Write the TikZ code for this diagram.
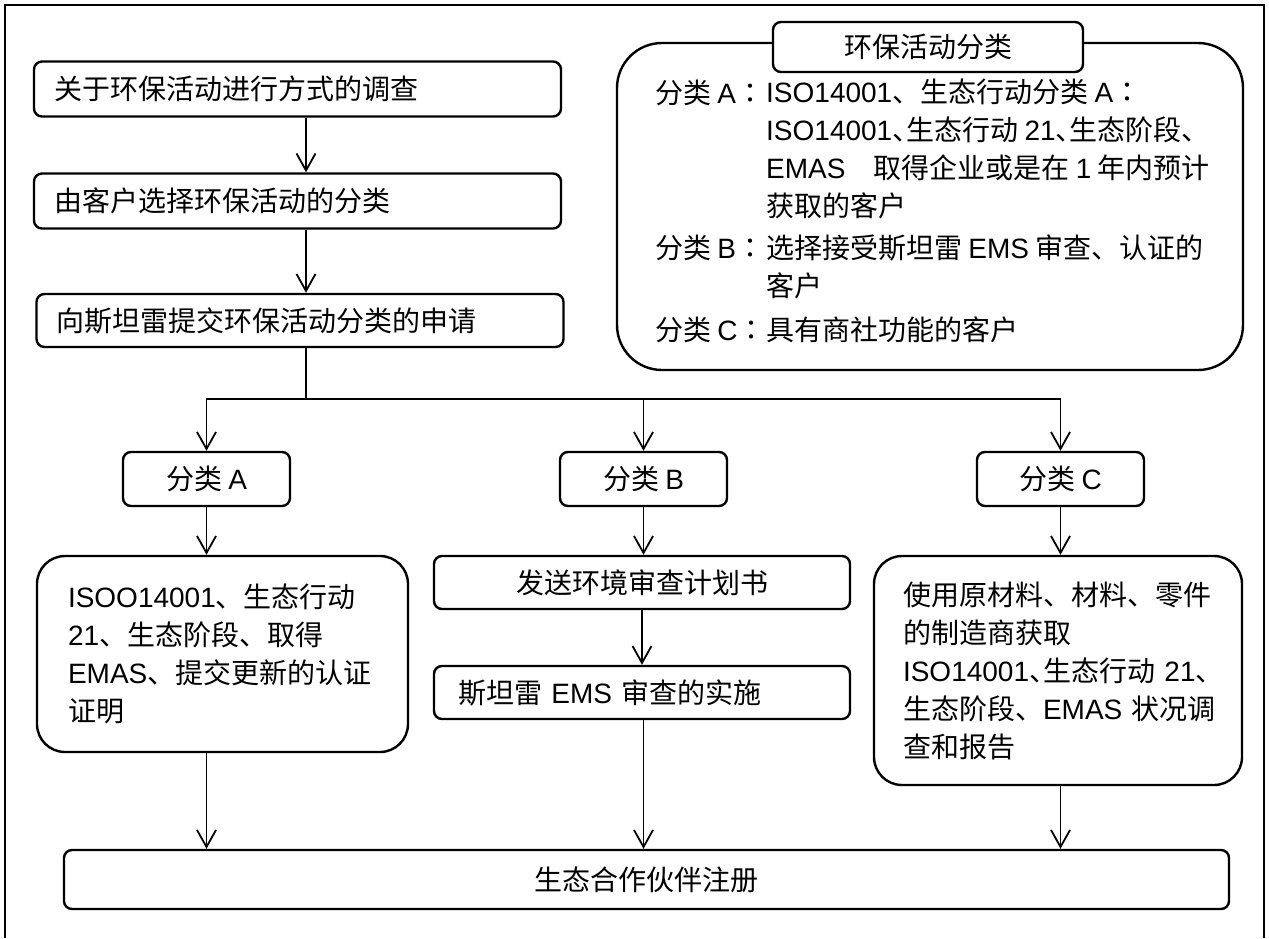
\documentclass[tikz,border=0pt]{standalone}
\usepackage{fontspec}
\setmainfont{Noto Sans CJK SC}
\newfontfamily\lat{Liberation Sans}
\newfontfamily\cjkjp{Noto Sans CJK JP}
\newfontfamily\cjkhalf[RawFeature=+halt]{Noto Sans CJK SC}
\usetikzlibrary{arrows.meta}
\newcommand\en[1]{{\lat #1}}
\newcommand\hdun{{\cjkhalf 、}}
\newcommand\jcol{{\cjkjp ：}}
\tikzset{
  box/.style={draw, line width=2.4pt, rounded corners=8pt, minimum height=55pt, inner sep=0pt},
  link/.style={line width=1.8pt, -{Straight Barb[length=17pt,width=19pt,line width=1.8pt]}},
  txt/.style={inner sep=0pt, align=left},
}
\begin{document}
\begin{tikzpicture}[x=1pt,y=-1pt,font=\fontsize{28}{38}\selectfont]
\useasboundingbox (0,0) rectangle (1269,938);
\draw[line width=2pt] (5,938) -- (5,5) -- (1264,5) -- (1264,938);
\node[box, text width=487pt, inner xsep=20pt, align=left] (survey) at (297.5,89) {关于环保活动进行方式的调查};
\node[box, text width=487pt, inner xsep=20pt, align=left] (choose) at (297.5,201) {由客户选择环保活动的分类};
\node[box, text width=487pt, inner xsep=20pt, align=left, minimum height=53pt] (apply) at (300,320.5) {向斯坦雷提交环保活动分类的申请};
\coordinate (fork) at (306,399);
\draw[link] (survey.south -| fork) -- (choose.north -| fork);
\draw[link] (choose.south -| fork) -- (apply.north -| fork);
\draw[line width=1.8pt] (apply.south -| fork) -- (fork);
\foreach \c/\x in {A/206.5,B/643.5,C/1060.5} {
  \node[box, minimum width=167pt, minimum height=54pt] (cat\c) at (\x,479) {分类 \en{\c}};
  \draw[link] (fork) -| (cat\c.north);
}
\node[box, rounded corners=45pt, minimum width=626pt, minimum height=327pt] (panel) at (930,206.5) {};
\node[box, fill=white, minimum width=310pt, minimum height=50pt] (paneltitle) at (928,47) {环保活动分类};
\node[txt, anchor=west] (labA) at (655,93) {分类 \en{A}\jcol};
\node[txt, anchor=west] (itemA) at (766,149) {\en{ISO14001}、生态行动分类 \en{A}\jcol\\
  \en{ISO14001}\hdun 生态行动 \en{21}\hdun 生态阶段、\\
  \en{EMAS}　取得企业或是在 \en{1} 年内预计\\
  获取的客户};
\node[txt, anchor=west] (labB) at (655,248) {分类 \en{B}\jcol};
\node[txt, anchor=west] (itemB) at (766,266.5) {选择接受斯坦雷 \en{EMS} 审查、认证的\\客户};
\node[txt, anchor=west] (labC) at (655,330) {分类 \en{C}\jcol};
\node[txt, anchor=west] (itemC) at (766,330) {具有商社功能的客户};
\node[box, rounded corners=28pt, minimum height=196pt, text width=309pt, inner xsep=31pt, align=left] (certA) at (222.5,654) {\en{ISOO14001}、生态行动\\\en{21}、生态阶段、取得\\\en{EMAS}、提交更新的认证\\证明};
\node[box, minimum width=416pt, minimum height=53pt] (planB) at (642,582.5) {发送环境审查计划书};
\node[box, text width=368pt, inner xsep=24pt, align=left, minimum height=53pt] (auditB) at (642,692.5) {斯坦雷 \en{EMS} 审查的实施};
\node[box, rounded corners=28pt, minimum height=229pt, text width=310pt, inner xsep=29pt, align=left] (surveyC) at (1058,670.5) {使用原材料、材料、零件\\的制造商获取\\\en{ISO14001}\hdun 生态行动~\en{21}\hdun\\生态阶段、\en{EMAS}~状况调\\查和报告};
\node[box, minimum width=1165pt, minimum height=59pt] (reg) at (646.5,879.5) {生态合作伙伴注册};
\draw[link] (catA) -- (catA |- certA.north);
\draw[link] (catB) -- (catB |- planB.north);
\draw[link] (catC) -- (catC |- surveyC.north);
\draw[link] (planB) -- (auditB);
\draw[link] (certA.south -| catA) -- (reg.north -| catA);
\draw[link] (auditB.south -| catB) -- (reg.north -| catB);
\draw[link] (surveyC.south -| catC) -- (reg.north -| catC);
\end{tikzpicture}
\end{document}
